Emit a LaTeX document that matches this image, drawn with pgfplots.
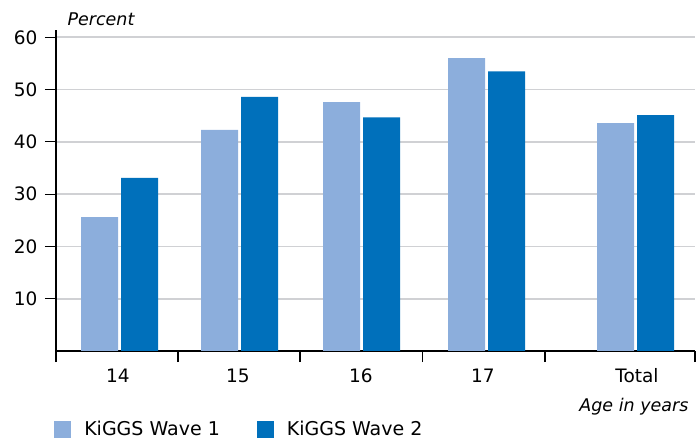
\documentclass[border=0pt]{standalone}
\usepackage{fontspec}
\setmainfont{DejaVu Sans}
\usepackage{pgfplots}
\pgfplotsset{compat=1.18}

\definecolor{waveone}{RGB}{140,174,220}
\definecolor{wavetwo}{RGB}{0,112,187}
\definecolor{gridgray}{RGB}{208,209,212}

\begin{document}
\begin{tikzpicture}
\begin{axis}[
  scale only axis, width=639pt, height=321pt,
  xmin=56, xmax=695, ymin=0, ymax=61.4,
  clip=false,
  axis x line*=bottom, axis y line*=left,
  axis line style={-, line width=1.1pt},
  ytick={10,20,30,40,50,60},
  xtick={56,178,300,422.5,545,695}, xticklabels={},
  tick align=outside, major tick length=11pt,
  tick style={black, line width=1.1pt},
  ymajorgrids, grid style={gridgray, line width=1.8pt},
  /pgf/number format/assume math mode=true,
  tick label style={font=\fontsize{18.5}{21}\selectfont},
  y tick label style={xshift=-4pt},
  ybar, bar width=37,
  legend columns=2,
  legend style={at={(axis description cs:-0.003,-0.271)}, anchor=south west,
    draw=none, inner sep=0pt, font=\fontsize{19}{22}\selectfont,
    nodes={inner sep=0pt},
    /tikz/every odd column/.append style={column sep=13pt},
    /tikz/every even column/.append style={column sep=37pt}},
  legend image code/.code={\fill[#1] (0pt,-8.5pt) rectangle (17pt,8.5pt);},
]
\addplot[fill=waveone, draw=none, bar shift=-20] coordinates
  {(119.5,25.6) (239.5,42.3) (361.5,47.6) (486.5,56.0) (635.5,43.6)};
\addplot[fill=wavetwo, draw=none, bar shift=20] coordinates
  {(119.5,33.1) (239.5,48.6) (361.5,44.7) (486.5,53.5) (635.5,45.1)};
\legend{KiGGS Wave 1, KiGGS Wave 2}

\begin{scope}[font=\fontsize{18.5}{21}\selectfont]
\node[anchor=base] at (axis cs:118,0) [yshift=-32pt] {14};
\node[anchor=base] at (axis cs:238,0) [yshift=-32pt] {15};
\node[anchor=base] at (axis cs:361,0) [yshift=-32pt] {16};
\node[anchor=base] at (axis cs:483,0) [yshift=-32pt] {17};
\node[anchor=base] at (axis cs:637,0) [yshift=-32pt] {Total};
\node[anchor=base east, font=\fontsize{17.5}{20}\selectfont\itshape] at (axis cs:692,0) [yshift=-61pt] {Age in years};
\node[anchor=base west, font=\fontsize{17.5}{20}\selectfont\itshape] at (axis cs:64,61.4) [yshift=5pt] {Percent};
\end{scope}
\end{axis}
\pgfresetboundingbox
\path (current axis.south west) ++(-56pt,-88pt) rectangle ++(697pt,439pt);
\end{tikzpicture}
\end{document}
